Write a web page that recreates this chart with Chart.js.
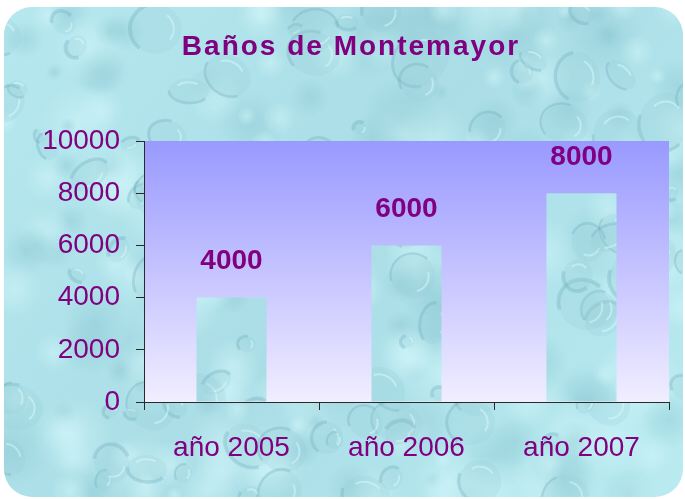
<!DOCTYPE html>
<html>
<head>
<meta charset="utf-8">
<title>Baños de Montemayor</title>
<script src="https://cdn.jsdelivr.net/npm/chart.js@4/dist/chart.umd.min.js"></script>
<style>
  html, body { margin: 0; padding: 0; background: #ffffff; }
  canvas { display: block; }
</style>
</head>
<body>
<canvas id="c" width="685" height="499"></canvas>
<script>
// Visitors per year
const chartTitle = 'Baños de Montemayor';
const categories = ['año 2005', 'año 2006', 'año 2007'];
const visitors = [4000, 6000, 8000];
const yMin = 0;
const yMax = 10000;
const yStep = 2000;

const PURPLE = '#800080';
const AXIS = '#2a2a2a';
const FONT = '"Liberation Sans", Arial, sans-serif';

// Small seeded generator so the water texture is the same on every load
function seeded(seed) {
  let s = seed >>> 0;
  return function () {
    s = (s + 0x6D2B79F5) >>> 0;
    let t = s;
    t = Math.imul(t ^ (t >>> 15), t | 1);
    t ^= t + Math.imul(t ^ (t >>> 7), t | 61);
    return ((t ^ (t >>> 14)) >>> 0) / 4294967296;
  };
}

// Paints a light-blue "water drops" texture into a 2D context
function paintWater(ctx, w, h, seed, count) {
  const rnd = seeded(seed);
  const g = ctx.createLinearGradient(0, 0, w, h);
  g.addColorStop(0, '#b6e8ef');
  g.addColorStop(0.5, '#aadde6');
  g.addColorStop(1, '#b9ebf1');
  ctx.fillStyle = g;
  ctx.fillRect(0, 0, w, h);

  // soft mottled patches
  for (let i = 0; i < count * 2; i++) {
    const x = rnd() * w, y = rnd() * h;
    const r = 8 + rnd() * 34;
    const light = rnd() > 0.45;
    const rg = ctx.createRadialGradient(x, y, 0, x, y, r);
    if (light) {
      rg.addColorStop(0, 'rgba(212,248,251,0.5)');
      rg.addColorStop(1, 'rgba(212,248,251,0)');
    } else {
      rg.addColorStop(0, 'rgba(128,190,202,0.32)');
      rg.addColorStop(1, 'rgba(128,190,202,0)');
    }
    ctx.fillStyle = rg;
    ctx.beginPath();
    ctx.arc(x, y, r, 0, Math.PI * 2);
    ctx.fill();
  }

  // drops: faint darker rim on one side, pale glint on the other
  for (let i = 0; i < count; i++) {
    const x = rnd() * w, y = rnd() * h;
    const rx = 6 + rnd() * 20;
    const ry = rx * (0.6 + rnd() * 0.7);
    const rot = rnd() * Math.PI;
    ctx.save();
    ctx.translate(x, y);
    ctx.rotate(rot);
    ctx.fillStyle = 'rgba(150,205,215,0.22)';
    ctx.beginPath();
    ctx.ellipse(0, 0, rx, ry, 0, 0, Math.PI * 2);
    ctx.fill();
    ctx.strokeStyle = 'rgba(105,170,185,0.3)';
    ctx.lineWidth = 2 + rnd() * 2;
    ctx.beginPath();
    ctx.ellipse(0, 0, rx, ry, 0, 0.2 * Math.PI, 1.0 * Math.PI);
    ctx.stroke();
    ctx.strokeStyle = 'rgba(222,252,255,0.45)';
    ctx.lineWidth = 2;
    ctx.beginPath();
    ctx.ellipse(0, 0, rx * 0.7, ry * 0.7, 0, 1.2 * Math.PI, 1.7 * Math.PI);
    ctx.stroke();
    ctx.restore();
  }
}

// Texture for the card behind the chart
const bgTex = document.createElement('canvas');
bgTex.width = 685; bgTex.height = 499;
paintWater(bgTex.getContext('2d'), bgTex.width, bgTex.height, 2007, 110);

// Texture for the bar fills (full-size tile, so no seams inside a bar)
const barTex = document.createElement('canvas');
barTex.width = 685; barTex.height = 499;
paintWater(barTex.getContext('2d'), barTex.width, barTex.height, 2005, 110);
const barPattern = barTex.getContext('2d').createPattern(barTex, 'repeat');

function roundRect(ctx, x, y, w, h, r) {
  ctx.beginPath();
  ctx.moveTo(x + r, y);
  ctx.lineTo(x + w - r, y);
  ctx.arcTo(x + w, y, x + w, y + r, r);
  ctx.lineTo(x + w, y + h - r);
  ctx.arcTo(x + w, y + h, x + w - r, y + h, r);
  ctx.lineTo(x + r, y + h);
  ctx.arcTo(x, y + h, x, y + h - r, r);
  ctx.lineTo(x, y + r);
  ctx.arcTo(x, y, x + r, y, r);
  ctx.closePath();
}

// Card background, plot-area gradient and title
const backdrop = {
  id: 'backdrop',
  beforeDraw(chart) {
    const ctx = chart.ctx;
    const a = chart.chartArea;
    ctx.save();
    ctx.fillStyle = '#ffffff';
    ctx.fillRect(0, 0, chart.width, chart.height);
    roundRect(ctx, 4, 7, chart.width - 6, chart.height - 9, 28);
    ctx.clip();
    ctx.drawImage(bgTex, 0, 0);
    ctx.restore();

    ctx.save();
    const g = ctx.createLinearGradient(0, a.top, 0, a.bottom);
    g.addColorStop(0, '#9999ff');
    g.addColorStop(1, '#f1eeff');
    ctx.fillStyle = g;
    ctx.fillRect(a.left, a.top, a.right - a.left, a.bottom - a.top);
    ctx.restore();

    ctx.save();
    ctx.font = 'bold 28px ' + FONT;
    if ('letterSpacing' in ctx) ctx.letterSpacing = '2px';
    ctx.fillStyle = PURPLE;
    ctx.textAlign = 'center';
    ctx.textBaseline = 'alphabetic';
    ctx.fillText(chartTitle, 351, 55);
    ctx.restore();
  }
};

// Value written above each bar
const valueLabels = {
  id: 'valueLabels',
  afterDatasetsDraw(chart) {
    const ctx = chart.ctx;
    const meta = chart.getDatasetMeta(0);
    const data = chart.data.datasets[0].data;
    ctx.save();
    ctx.font = 'bold 28px ' + FONT;
    ctx.fillStyle = PURPLE;
    ctx.textAlign = 'center';
    ctx.textBaseline = 'middle';
    meta.data.forEach((bar, i) => {
      ctx.fillText(String(data[i]), bar.x, bar.y - 36);
    });
    ctx.restore();
  }
};

new Chart(document.getElementById('c'), {
  type: 'bar',
  data: {
    labels: categories,
    datasets: [{
      data: visitors,
      backgroundColor: barPattern,
      borderWidth: 0,
      categoryPercentage: 1,
      barPercentage: 0.4
    }]
  },
  options: {
    responsive: false,
    devicePixelRatio: 1,
    animation: false,
    layout: { padding: { top: 141, right: 16, bottom: 0, left: 0 } },
    plugins: {
      legend: { display: false },
      title: { display: false },
      tooltip: { enabled: false }
    },
    scales: {
      x: {
        grid: { display: true, drawOnChartArea: false, tickLength: 8, color: AXIS, offset: true },
        border: { display: true, color: AXIS, width: 1 },
        ticks: { color: PURPLE, font: { family: FONT, size: 28 }, padding: 21, maxRotation: 0 },
        afterFit(s) { s.height = 97; }
      },
      y: {
        min: yMin,
        max: yMax,
        grid: { display: true, drawOnChartArea: false, tickLength: 8, color: AXIS },
        border: { display: true, color: AXIS, width: 1 },
        ticks: {
          stepSize: yStep,
          color: PURPLE,
          font: { family: FONT, size: 28 },
          padding: 16,
          callback: (v) => String(v)
        },
        afterFit(s) { s.width = 144; }
      }
    }
  },
  plugins: [backdrop, valueLabels]
});
</script>
</body>
</html>
